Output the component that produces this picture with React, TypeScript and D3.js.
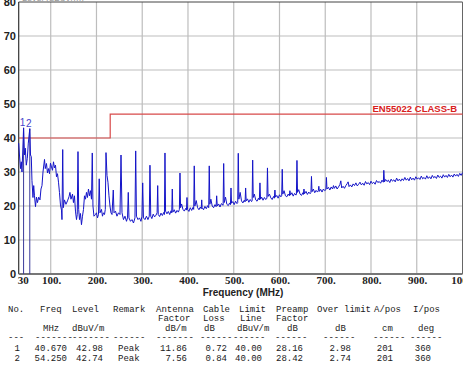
import React from 'react';
import * as d3 from 'd3';

// ---------- DATA ----------
const yTicks = [0, 10, 20, 30, 40, 50, 60, 70, 80];
const xTicks = [30, 100, 200, 300, 400, 500, 600, 700, 800, 900, 1000];
const xTickLabels = ['30', '100.', '200.', '300.', '400.', '500.', '600.', '700.', '800.', '900.', '1000.'];
const limitLine: [number, number][] = [[30, 40], [230, 40], [230, 47], [1000, 47]];
const limitName = 'EN55022 CLASS-B';
const markerNos = ['1', '2'];
const markerFreqs = [40.67, 54.25];
const markerLevels = [42.98, 42.74];

const spectrumLow: [number, number][] = [
  [30, 38.5], [31.7, 35], [34, 31], [35.7, 33], [37.2, 30], [40.67, 42.98], [42.7, 35], [44.4, 37], [46.6, 32],
  [48.8, 34], [51, 38.5], [54.25, 42.74], [55.8, 35], [57.5, 34.5], [59, 27.5], [61.2, 22.5], [62.8, 26],
  [64.5, 23], [66.7, 19.8], [68.9, 22.6], [71, 21], [73.7, 22.6], [76.5, 21.8], [78.7, 25], [80.9, 26],
  [83.1, 30], [86.4, 33.7], [88.1, 31], [90.7, 32.5], [92.9, 29.7], [95.1, 31], [97.3, 29.5], [99.5, 32.6],
  [101.7, 31.5], [103.9, 30.5], [106, 33], [108.2, 31.2], [110.4, 32], [112.6, 28.6], [114.8, 29.5],
  [117, 27], [119.1, 24], [121.3, 20.3], [123.5, 18.8], [124.6, 16], [126.2, 36.6], [127.5, 19.5],
  [130, 21.8], [133.3, 20.5], [136.6, 21.5], [139.9, 22.7], [142, 24], [144.3, 22], [147.6, 23.5],
  [149.7, 21], [151.9, 23], [154.1, 18.5], [156.3, 16], [158, 17.5], [159.6, 36], [161.1, 19], [162.9, 16],
  [165, 17.8], [167.2, 14.5], [169.4, 17], [171.6, 19], [173.8, 23], [176, 22], [178.1, 24], [180.3, 22.5],
  [182.5, 25], [184.7, 23], [186.9, 24.5], [189.1, 22], [190.8, 35.6], [192.3, 20], [194.5, 17],
  [197.8, 17.5], [200, 18], [202.2, 16.5], [204.4, 17.5], [206, 28], [207.6, 18], [210.9, 19], [213.1, 17],
  [215.3, 18], [217.5, 17.5], [219.3, 19], [220.8, 35.7], [223, 29], [225.1, 27], [227.3, 23], [229.5, 20],
  [231.7, 18], [233.9, 17.5], [236.7, 24.7], [238.3, 18], [241.5, 18.5], [244.8, 17], [248.1, 18],
  [251.4, 17.5], [253.6, 35], [255.8, 18], [259, 16], [262.3, 17], [265.6, 15.5], [267.8, 16.5],
  [269.5, 24], [271, 16.5], [274.3, 15.5], [277.6, 16], [280.9, 15], [284.1, 16.5], [285.7, 36.2],
  [287.4, 17], [290.7, 16], [294, 16.5], [297.2, 15.5], [299.4, 17], [301, 26.8], [302.7, 16.5], [306, 16],
  [309.2, 17], [312.5, 16], [315.4, 17], [316.9, 32],
];

const spectrumMid: [number, number][] = [
  [318.6, 17], [321, 16.3], [324, 17.6], [327, 16.8], [330, 17.3], [332.5, 18], [333.8, 26], [335, 17.5],
  [338, 16.9], [341, 17.9], [344, 17.2], [347, 18.1], [348.5, 17.5], [349.7, 35.6], [351, 18.5], [354, 17.7],
  [357, 18.4], [360, 17.5], [363, 18.6], [364.5, 18], [365.7, 25], [367, 18.2], [370, 18.9], [373, 17.9],
  [376, 18.7], [379, 18.2], [381.2, 19], [382.5, 29.7], [383.8, 19.5], [386, 20.6], [389, 19], [392, 18.5],
  [395, 19.3], [396.7, 18.8], [397.8, 22.5], [399, 19], [402, 18.4], [405, 19.5], [408, 18.7], [411, 19.6],
  [412.5, 19], [413.7, 31.8], [415, 20], [418, 21.6], [421, 19.5], [424, 18.9], [427, 19.7], [429, 19.2],
  [430, 21.8], [431, 19.5], [434, 18.9], [437, 19.9], [440, 19.2], [443, 20.1], [445.3, 19.5], [446.5, 31.8],
  [447.8, 20.5], [450, 22], [453, 20], [456, 19.5], [459, 20.4], [461.5, 19.8], [462.7, 23], [464, 20],
  [467, 20.6], [470, 19.7], [473, 20.7], [476.8, 20.2], [478, 32.5], [479.2, 21], [482, 22.6], [485, 20.5],
  [488, 20.1], [491, 20.9], [492.8, 20.4], [494, 25.3], [495.2, 20.8], [498, 21.3], [501, 20.4],
  [504, 21.4], [507, 20.7], [508.7, 21], [509.9, 35.5], [511.2, 22], [514, 24], [517, 21.5], [520, 20.9],
  [523, 21.7], [524.8, 21.2], [526, 25.3], [527.2, 21.5], [530, 22.1], [533, 21.1], [536, 21.9], [539, 21.3],
  [540.2, 21.6], [541.4, 33.5], [542.6, 22.5], [545, 23.5], [548, 21.8], [551, 21.4], [554, 22.3],
  [556, 21.8], [557.3, 26.8], [558.6, 22], [561, 22.6], [564, 21.7], [567, 22.5], [570, 21.9], [572.5, 22.3],
  [573.7, 31.2], [575, 22.8], [578, 23.5], [581, 22.4], [584, 21.9], [587, 22.8], [588.8, 22.3], [590, 24.7],
  [591.2, 22.6], [594, 23.1], [597, 22.3], [600, 23.3], [603, 22.7], [604.8, 23], [606, 30.8], [607.2, 23.5],
  [610, 24.5], [613, 23], [616, 22.7], [619, 23.5], [621.6, 23], [622.8, 24.5], [624, 23.2], [627, 23.9],
  [630, 22.9], [633, 23.7], [636, 23.2], [637, 23.5], [638.2, 33.4], [639.4, 24], [642, 24.8], [645, 23.5],
  [648, 23.1], [651, 23.9], [652.3, 23.4], [653.5, 25], [654.7, 23.6], [658, 24.3], [661, 23.4], [664, 24.1],
  [667, 23.6], [668.7, 24], [669.9, 28.7], [671.1, 24.2], [674, 25], [677, 23.9], [680, 24.6], [683, 24.1],
  [684.8, 24.5], [686, 25.8], [687.2, 24.3], [690, 24.9], [693, 24.1], [696, 25], [699, 24.5],
  [701.4, 24.8], [702.6, 28.4], [703.8, 25], [707, 25.5], [710, 24.7], [713, 25.6], [716, 25], [718, 26],
  [720, 25.2],
];

const spectrumHigh: [number, number][] = [
  [723, 25.9], [726, 25.0], [729, 25.6], [732, 26.3], [734, 27.4], [736, 25.3], [739, 25.8], [742, 25.2],
  [745, 26.0], [748, 26.6], [750, 27.1], [752, 25.7], [755, 26.2], [758, 25.6], [761, 26.5], [764, 26.0],
  [767, 26.8], [770, 25.9], [773, 26.4], [776, 27.0], [779, 26.2], [782, 26.7], [785, 26.1], [788, 27.2],
  [791, 26.5], [794, 26.9], [797, 26.3], [800, 27.3], [803, 26.6], [806, 27.0], [809, 26.4], [812, 27.5],
  [815, 26.9], [818, 27.2], [821, 26.7], [824, 27.6], [827, 27.0], [828, 30.5], [829.5, 27.1], [832, 27.8],
  [835, 27.2], [838, 27.6], [841, 26.9], [844, 27.9], [847, 27.3], [850, 27.7], [853, 27.1], [856, 28.2],
  [859, 27.4], [862, 27.9], [865, 27.3], [868, 28.0], [871, 27.5], [874, 28.4], [877, 27.6], [880, 28.1],
  [883, 27.4], [886, 28.5], [889, 27.7], [892, 28.2], [895, 27.6], [898, 28.6], [901, 27.9], [904, 28.3],
  [907, 27.8], [910, 28.8], [913, 28.0], [916, 28.4], [919, 27.9], [922, 28.9], [925, 28.1], [928, 28.6],
  [931, 28.0], [934, 29.0], [937, 28.3], [940, 28.7], [943, 28.1], [946, 29.1], [949, 28.4], [952, 28.8],
  [955, 28.2], [958, 29.2], [961, 28.5], [964, 29.0], [967, 28.4], [970, 29.3], [973, 28.6], [976, 29.1],
  [979, 28.5], [982, 29.4], [985, 28.8], [988, 29.3], [991, 28.7], [994, 29.6], [997, 29.0], [1000, 29.8],
];

const tableHead1 = ['No.', 'Freq', 'Level', 'Remark', 'Antenna', 'Cable', 'Limit', 'Preamp', 'Over limit', 'A/pos', 'I/pos'];
const tableHead2 = ['', '', '', '', 'Factor', 'Loss', 'Line', 'Factor', '', '', ''];
const tableHead3 = ['', 'MHz', 'dBuV/m', '', 'dB/m', 'dB', 'dBuV/m', 'dB', 'dB', 'cm', 'deg'];
const tableDashes = ['---', '-------', '-------', '------', '-------', '------', '------', '------', '------', '------', '------'];
const tableRows = [
  ['1', '40.670', '42.98', 'Peak', '11.86', '0.72', '40.00', '28.16', '2.98', '201', '360'],
  ['2', '54.250', '42.74', 'Peak', '7.56', '0.84', '40.00', '28.42', '2.74', '201', '360'],
];

// ---------- LAYOUT ----------
const W = 463;
const H = 366;
const head1X = [8, 40, 72, 113, 156, 203, 239, 276, 317, 374, 413];
const head2X = [0, 0, 0, 0, 158, 203, 240, 276, 0, 0, 0];
const head3X = [0, 43, 72, 0, 165, 204, 237, 287, 335, 382, 418];
const dashX = [8, 35, 72, 113, 156, 200, 233, 275, 323, 373, 410];
const rowEndX = [20, 67, 103, 0, 187, 227, 262, 303, 351, 393, 431];
const rowStartX = [0, 0, 0, 118, 0, 0, 0, 0, 0, 0, 0];

export default function App() {
  const x = d3.scaleLinear().domain([30, 1000]).range([18.7, 462.5]);
  const y = d3.scaleLinear().domain([0, 80]).range([274, 2]);
  const line = d3.line<[number, number]>().x((d) => x(d[0])).y((d) => y(d[1]));
  const spectrum = [...spectrumLow, ...spectrumMid, ...spectrumHigh];
  const mono = "'Liberation Mono', 'DejaVu Sans Mono', monospace";
  const sans = "'Liberation Sans', Arial, sans-serif";
  const serif = "'Liberation Serif', 'Times New Roman', serif";

  return (
    <svg width={W} height={H} style={{ position: 'absolute', left: 0, top: 0, background: '#fff' }}>
      <rect x={0} y={0} width={W} height={H} fill="#fff" />
      {/* grid */}
      {yTicks.filter((t) => t > 0 && t < 80).map((t) => (
        <line key={'gy' + t} x1={x(30)} x2={x(1000)} y1={y(t)} y2={y(t)} stroke="#bdbdbd" strokeWidth={1} />
      ))}
      {xTicks.filter((t) => t > 30 && t < 1000).map((t) => (
        <line key={'gx' + t} x1={x(t)} x2={x(t)} y1={y(80)} y2={y(0)} stroke="#bdbdbd" strokeWidth={1.2} />
      ))}
      {/* frame */}
      <line x1={x(30)} x2={x(1000)} y1={y(80)} y2={y(80)} stroke="#444" strokeWidth={1} />
      <line x1={x(1000)} x2={x(1000)} y1={y(80)} y2={y(0)} stroke="#666" strokeWidth={1} />
      <line x1={x(30)} x2={x(30)} y1={y(80)} y2={y(0)} stroke="#333" strokeWidth={1.2} />
      <line x1={x(30)} x2={x(1000)} y1={y(0)} y2={y(0)} stroke="#777" strokeWidth={2} />
      {/* partially hidden top title */}
      <text x={22} y={1} fontFamily={sans} fontSize={9} fill="#999">Level (dBuV/m)</text>
      {/* y tick labels */}
      {yTicks.map((t) => (
        <text key={'yl' + t} x={16} y={y(t) + 4} textAnchor="end" fontFamily={sans} fontWeight="bold" fontSize={11} fill="#222">
          {t}
        </text>
      ))}
      {/* x tick labels */}
      {xTicks.map((t, i) => (
        <text key={'xl' + t} x={x(t) + (i === 0 ? 4.5 : 1)} y={284} textAnchor="middle" fontFamily={serif} fontWeight="bold" fontSize={11} fill="#222">
          {xTickLabels[i]}
        </text>
      ))}
      <text x={243} y={296} textAnchor="middle" fontFamily={sans} fontWeight="bold" fontSize={10} fill="#222">
        Frequency (MHz)
      </text>
      {/* limit line */}
      <path d={line(limitLine) || ''} fill="none" stroke="#d84a4a" strokeWidth={1.2} />
      <text x={457} y={111.5} textAnchor="end" fontFamily={sans} fontWeight="bold" fontSize={9.5} fill="#d82020">
        {limitName}
      </text>
      {/* marker lines */}
      {markerFreqs.map((f, i) => (
        <line key={'ml' + i} x1={x(f)} x2={x(f)} y1={y(0)} y2={y(markerLevels[i])} stroke="#3a3a9a" strokeWidth={1} />
      ))}
      {/* spectrum */}
      <path d={line(spectrum) || ''} fill="none" stroke="#1414c8" strokeWidth={1} />
      {markerFreqs.map((f, i) => (
        <text key={'mt' + i} x={x(f) - 1} y={y(markerLevels[i]) - 1.5} textAnchor="middle" fontFamily={sans} fontSize={10} fill="#4444cc">
          {markerNos[i]}
        </text>
      ))}
      {/* table */}
      <g fontFamily={mono} fontSize={9} fill="#1a1a1a">
        {tableHead1.map((s, i) => (
          <text key={'h1' + i} x={head1X[i]} y={311.5}>{s}</text>
        ))}
        {tableHead2.map((s, i) => (s ? <text key={'h2' + i} x={head2X[i]} y={321}>{s}</text> : null))}
        {tableHead3.map((s, i) => (s ? <text key={'h3' + i} x={head3X[i]} y={330.5}>{s}</text> : null))}
        {tableDashes.map((s, i) => (
          <text key={'d' + i} x={dashX[i]} y={340}>{s}</text>
        ))}
        {tableRows.map((row, r) =>
          row.map((s, i) => (
            <text
              key={'r' + r + '_' + i}
              x={rowStartX[i] || rowEndX[i]}
              y={350.5 + r * 10}
              textAnchor={rowStartX[i] ? 'start' : 'end'}
            >
              {s}
            </text>
          ))
        )}
      </g>
    </svg>
  );
}
